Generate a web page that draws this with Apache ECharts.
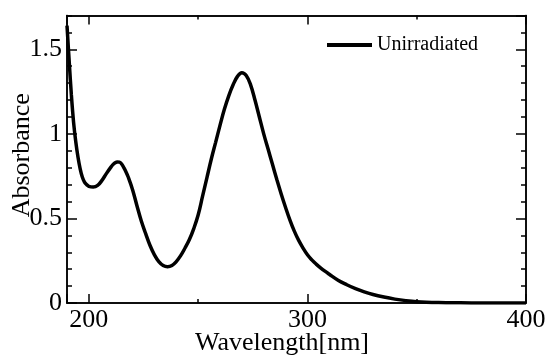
<!DOCTYPE html>
<html>
<head>
<meta charset="utf-8">
<script src="https://cdn.jsdelivr.net/npm/echarts@6/dist/echarts.min.js"></script>
<style>
html,body{margin:0;padding:0;background:#fff;}
#c{width:547px;height:359px;}
</style>
</head>
<body>
<div id="c"></div>
<script>
const wavelength = [190,191,192,193,194,195,196,197,198,199,200,202,204,206,208,210,211,212,213,214,215,216,217,218,220,222,224,226,228,230,232,234,236,238,240,242,244,246,248,250,252,254,256,258,260,262,264,266,268,270,272,274,276,278,280,282,284,286,288,290,292,294,296,298,300,302,304,306,308,310,314,318,322,326,330,335,340,345,350,360,370,380,390,400];
const absorbance = [1.64,1.43,1.23,1.07,0.955,0.865,0.795,0.745,0.715,0.70,0.69,0.686,0.695,0.725,0.765,0.802,0.818,0.829,0.834,0.833,0.822,0.80,0.775,0.745,0.67,0.575,0.485,0.41,0.34,0.285,0.245,0.222,0.215,0.222,0.245,0.28,0.325,0.375,0.44,0.52,0.63,0.74,0.85,0.95,1.05,1.145,1.225,1.29,1.34,1.362,1.345,1.29,1.20,1.10,1.00,0.91,0.82,0.73,0.645,0.565,0.49,0.425,0.37,0.325,0.285,0.255,0.23,0.208,0.188,0.17,0.135,0.108,0.085,0.066,0.05,0.035,0.023,0.014,0.008,0.003,0.001,0,0,0];
const seriesName = 'Unirradiated';
const xMajorLabels = [200, 300, 400];

const FONT = '"Liberation Serif", "Times New Roman", serif';
const X_MIN = 190, X_MAX = 400, Y_MIN = 0, Y_MAX = 1.7;
const lineStyle = {color:'#000', width:1.5};

function xAx(opts){
  return Object.assign({
    type:'value', min:X_MIN, max:X_MAX, position:'bottom',
    axisLine:{show:true, onZero:false, lineStyle},
    axisTick:{show:true, inside:true, length:9, lineStyle},
    axisLabel:{show:false},
    splitLine:{show:false}
  }, opts);
}
function yAx(opts){
  return Object.assign({
    type:'value', min:Y_MIN, max:Y_MAX, position:'left',
    axisLine:{show:true, onZero:false, lineStyle},
    axisTick:{show:true, inside:true, length:10, lineStyle},
    axisLabel:{show:false},
    splitLine:{show:false}
  }, opts);
}

const chart = echarts.init(document.getElementById('c'), null, {renderer:'canvas'});
chart.setOption({
  animation:false,
  backgroundColor:'#fff',
  grid:{left:67, right:21, top:15.5, bottom:56, containLabel:false, outerBoundsMode:'none'},
  legend:{
    show:true, left:327, top:35, padding:0, itemWidth:45, itemHeight:4, itemGap:5,
    data:[{name:seriesName, icon:'rect'}],
    textStyle:{fontFamily:FONT, fontSize:20, color:'#000'},
    itemStyle:{color:'#000'}
  },
  xAxis:[
    xAx({splitNumber:2, name:'Wavelength[nm]', nameLocation:'middle', nameGap:27, nameMoveOverlap:false,
         nameTextStyle:{fontFamily:FONT, fontSize:26, color:'#000', padding:[0,29,0,0]},
         axisLabel:{show:true, margin:4, fontFamily:FONT, fontSize:26, color:'#000',
           formatter: v => (xMajorLabels.indexOf(v) >= 0 ? String(v) : '')}}),
    xAx({splitNumber:4, axisTick:{show:true, inside:true, length:4, lineStyle}}),
    xAx({position:'top', splitNumber:2}),
    xAx({position:'top', splitNumber:4, axisTick:{show:true, inside:true, length:4, lineStyle}})
  ],
  yAxis:[
    yAx({interval:0.5, name:'Absorbance', nameLocation:'middle', nameGap:32, nameRotate:90, nameMoveOverlap:false,
         nameTextStyle:{fontFamily:FONT, fontSize:26, color:'#000', padding:[0,0,0,8]},
         axisLabel:{show:true, margin:5, fontFamily:FONT, fontSize:26, color:'#000', showMaxLabel:false,
           formatter: v => (v > 1.69 ? '' : String(v))}}),
    yAx({interval:0.1, axisTick:{show:true, inside:true, length:5, lineStyle}}),
    yAx({position:'right', interval:0.5}),
    yAx({position:'right', interval:0.1, axisTick:{show:true, inside:true, length:5, lineStyle}})
  ],
  series:[{
    name:seriesName, type:'line', xAxisIndex:0, yAxisIndex:0,
    data: wavelength.map((w,i)=>[w, absorbance[i]]),
    smooth:0.4, showSymbol:false, symbol:'none',
    lineStyle:{color:'#000', width:3.5},
    itemStyle:{color:'#000'}
  }]
});
</script>
</body>
</html>
